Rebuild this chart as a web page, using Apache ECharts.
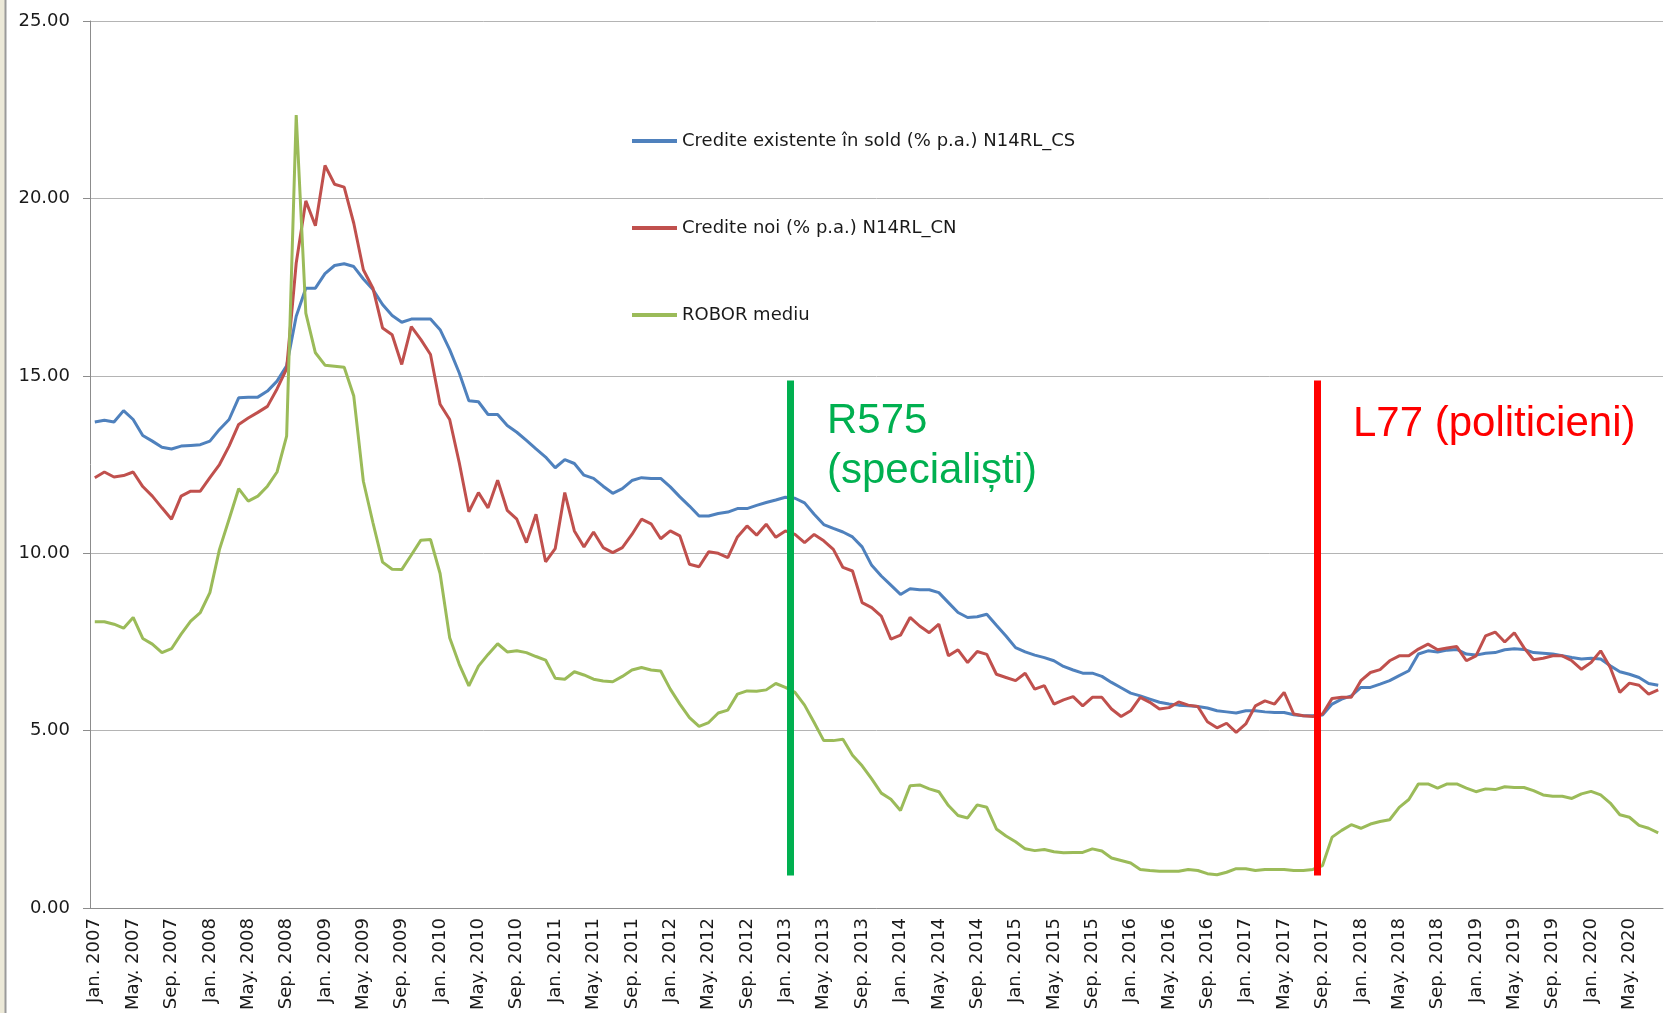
<!DOCTYPE html>
<html>
<head>
<meta charset="utf-8">
<title>Credite vs ROBOR</title>
<script src="https://cdn.jsdelivr.net/npm/echarts@6/dist/echarts.min.js"></script>
<style>
  html, body { margin: 0; padding: 0; background: #fff; }
  #chart { width: 1674px; height: 1013px; }
</style>
</head>
<body>
<div id="chart"></div>
<script>
// luni: ian. 2007 - aug. 2020
const monthNames = ['Jan.', 'Feb.', 'Mar.', 'Apr.', 'May.', 'Jun.', 'Jul.', 'Aug.', 'Sep.', 'Oct.', 'Nov.', 'Dec.'];
const firstYear = 2007;
const monthCount = 164;
const months = [];
for (let i = 0; i < monthCount; i++) {
    months.push(monthNames[i % 12] + ' ' + (firstYear + Math.floor(i / 12)));
}

const seriesNames = [
    'Credite existente în sold (% p.a.) N14RL_CS',
    'Credite noi (% p.a.) N14RL_CN',
    'ROBOR mediu'
];

const crediteSold = [
    13.70, 13.75, 13.70, 14.02, 13.77, 13.32, 13.16, 12.99, 12.94, 13.02, 13.04, 13.06,
    13.16, 13.49, 13.77, 14.38, 14.40, 14.40, 14.57, 14.85, 15.28, 16.68, 17.47, 17.47,
    17.88, 18.11, 18.16, 18.08, 17.73, 17.43, 17.01, 16.70, 16.51, 16.60, 16.60, 16.60,
    16.30, 15.74, 15.08, 14.30, 14.27, 13.91, 13.91, 13.60, 13.41, 13.18, 12.94, 12.71,
    12.41, 12.64, 12.53, 12.20, 12.11, 11.89, 11.69, 11.82, 12.05, 12.13, 12.11, 12.11,
    11.87, 11.59, 11.33, 11.05, 11.05, 11.12, 11.16, 11.26, 11.26, 11.35, 11.43, 11.50,
    11.58, 11.55, 11.42, 11.10, 10.81, 10.70, 10.60, 10.46, 10.18, 9.66, 9.36, 9.10,
    8.84, 9.00, 8.97, 8.97, 8.89, 8.61, 8.33, 8.19, 8.21, 8.28, 7.97, 7.67,
    7.34, 7.22, 7.13, 7.06, 6.97, 6.81, 6.71, 6.62, 6.62, 6.53, 6.36, 6.21,
    6.06, 5.98, 5.89, 5.80, 5.75, 5.72, 5.70, 5.68, 5.64, 5.56, 5.53, 5.50,
    5.56, 5.56, 5.53, 5.51, 5.51, 5.45, 5.42, 5.42, 5.44, 5.75, 5.89, 5.98,
    6.22, 6.22, 6.31, 6.41, 6.55, 6.69, 7.16, 7.25, 7.22, 7.27, 7.29, 7.16,
    7.13, 7.18, 7.20, 7.28, 7.31, 7.29, 7.20, 7.18, 7.16, 7.11, 7.06, 7.02,
    7.04, 7.02, 6.83, 6.66, 6.59, 6.50, 6.33, 6.28
];

const crediteNoi = [
    12.13, 12.29, 12.15, 12.19, 12.29, 11.88, 11.61, 11.28, 10.96, 11.61, 11.75, 11.75,
    12.13, 12.50, 13.02, 13.63, 13.81, 13.97, 14.14, 14.63, 15.20, 18.18, 19.93, 19.23,
    20.93, 20.40, 20.32, 19.30, 17.99, 17.47, 16.35, 16.16, 15.32, 16.39, 16.02, 15.60,
    14.20, 13.77, 12.55, 11.17, 11.71, 11.28, 12.06, 11.21, 10.96, 10.30, 11.10, 9.76,
    10.13, 11.71, 10.63, 10.18, 10.60, 10.16, 10.02, 10.16, 10.53, 10.96, 10.83, 10.41,
    10.63, 10.49, 9.69, 9.62, 10.04, 10.00, 9.88, 10.46, 10.77, 10.51, 10.82, 10.45,
    10.63, 10.53, 10.30, 10.53, 10.35, 10.11, 9.60, 9.50, 8.61, 8.47, 8.23, 7.58,
    7.69, 8.19, 7.95, 7.76, 8.00, 7.11, 7.28, 6.92, 7.23, 7.15, 6.59, 6.50,
    6.41, 6.62, 6.17, 6.27, 5.75, 5.87, 5.96, 5.70, 5.94, 5.94, 5.61, 5.40,
    5.56, 5.94, 5.80, 5.61, 5.65, 5.81, 5.72, 5.68, 5.25, 5.08, 5.21, 4.95,
    5.19, 5.70, 5.84, 5.75, 6.08, 5.47, 5.42, 5.40, 5.47, 5.91, 5.94, 5.94,
    6.41, 6.64, 6.72, 6.97, 7.11, 7.11, 7.30, 7.44, 7.28, 7.33, 7.37, 6.97,
    7.11, 7.67, 7.78, 7.50, 7.76, 7.34, 7.00, 7.04, 7.11, 7.11, 6.97, 6.73,
    6.92, 7.25, 6.78, 6.08, 6.34, 6.28, 6.03, 6.15
];

const roborMediu = [
    8.07, 8.07, 8.00, 7.89, 8.19, 7.60, 7.44, 7.20, 7.31, 7.72, 8.09, 8.33,
    8.89, 10.11, 10.96, 11.82, 11.47, 11.61, 11.89, 12.29, 13.30, 22.35, 16.77, 15.65,
    15.30, 15.27, 15.24, 14.43, 12.03, 10.86, 9.75, 9.55, 9.54, 9.95, 10.37, 10.39,
    9.43, 7.62, 6.87, 6.26, 6.82, 7.15, 7.45, 7.22, 7.25, 7.20, 7.09, 6.99,
    6.48, 6.45, 6.66, 6.57, 6.45, 6.40, 6.38, 6.53, 6.71, 6.78, 6.71, 6.68,
    6.17, 5.75, 5.37, 5.12, 5.23, 5.50, 5.58, 6.03, 6.12, 6.11, 6.15, 6.33,
    6.22, 6.08, 5.72, 5.23, 4.72, 4.72, 4.76, 4.31, 4.01, 3.64, 3.24, 3.07,
    2.75, 3.45, 3.47, 3.36, 3.28, 2.89, 2.61, 2.54, 2.91, 2.84, 2.23, 2.03,
    1.87, 1.67, 1.62, 1.65, 1.59, 1.56, 1.57, 1.57, 1.67, 1.61, 1.41, 1.34,
    1.27, 1.09, 1.06, 1.04, 1.04, 1.04, 1.09, 1.06, 0.97, 0.94, 1.01, 1.11,
    1.11, 1.06, 1.09, 1.09, 1.09, 1.06, 1.06, 1.09, 1.20, 2.00, 2.19, 2.35,
    2.25, 2.37, 2.44, 2.49, 2.84, 3.06, 3.50, 3.50, 3.38, 3.50, 3.50, 3.38,
    3.28, 3.36, 3.34, 3.42, 3.40, 3.40, 3.31, 3.19, 3.15, 3.15, 3.09, 3.22,
    3.29, 3.19, 2.96, 2.63, 2.56, 2.33, 2.25, 2.12
];

// verticale: granita de luna (dupa ian. 2013 / inainte de sep. 2017)
const reformAt = [73, 128];
const reformSpan = [0.92, 14.87];
const reformColors = ['#00B050', '#FF0000'];

const colors = ['#4F81BD', '#C0504D', '#9BBB59'];
const labelFont = 'DejaVu Sans';

const chart = echarts.init(document.getElementById('chart'));

const option = {
    backgroundColor: '#ffffff',
    animation: false,
    color: colors,
    grid: { left: 90, right: 11, top: 21, bottom: 104, containLabel: false },
    legend: {
        orient: 'vertical',
        left: 627,
        top: 126,
        icon: 'rect',
        itemWidth: 45,
        itemHeight: 4,
        itemGap: 67,
        data: seriesNames,
        textStyle: { fontFamily: labelFont, fontSize: 18, color: '#1a1a1a', lineHeight: 20 }
    },
    xAxis: [{
        type: 'category',
        data: months,
        boundaryGap: true,
        axisLine: { lineStyle: { color: '#8c8c8c', width: 1 } },
        axisTick: { interval: 3, length: 6, lineStyle: { color: '#8c8c8c' } },
        axisLabel: {
            interval: 3,
            rotate: 90,
            margin: 10,
            fontFamily: labelFont,
            fontSize: 18,
            color: '#1a1a1a'
        },
        splitLine: { show: false }
    }, {
        type: 'value',
        show: false,
        min: 0,
        max: monthCount
    }],
    yAxis: {
        type: 'value',
        min: 0,
        max: 25,
        interval: 5,
        axisLine: { show: true, lineStyle: { color: '#8c8c8c', width: 1 } },
        axisTick: { show: true, length: 7, lineStyle: { color: '#8c8c8c' } },
        axisLabel: {
            margin: 20,
            fontFamily: labelFont,
            fontSize: 18,
            color: '#1a1a1a',
            formatter: v => v.toFixed(2)
        },
        splitLine: { lineStyle: { color: '#b4b4b4', width: 1 } }
    },
    series: [
        {
            name: seriesNames[0], type: 'line', data: crediteSold,
            symbol: 'none', lineStyle: { width: 3 }
        },
        {
            name: seriesNames[1], type: 'line', data: crediteNoi,
            symbol: 'none', lineStyle: { width: 3 }
        },
        {
            name: seriesNames[2], type: 'line', data: roborMediu,
            symbol: 'none', lineStyle: { width: 3 }
        },
        {
            name: 'reforme',
            type: 'lines',
            coordinateSystem: 'cartesian2d',
            xAxisIndex: 1,
            yAxisIndex: 0,
            z: 5,
            silent: true,
            lineStyle: { width: 7, opacity: 1, curveness: 0 },
            data: reformAt.map((m, k) => ({
                coords: [[m, reformSpan[1]], [m, reformSpan[0]]],
                lineStyle: { color: reformColors[k] }
            }))
        }
    ],
    graphic: [
        { type: 'rect', shape: { x: 0, y: 0, width: 5, height: 1013 }, style: { fill: '#ECE9D8' } },
        { type: 'line', shape: { x1: 5.5, y1: 0, x2: 5.5, y2: 1013 }, style: { stroke: '#9a9a9a', lineWidth: 2 } },
        {
            type: 'text', x: 827, y: 421, z: 10,
            style: { text: 'R575', fill: '#00B050', font: '42px "Liberation Sans"', verticalAlign: 'middle' }
        },
        {
            type: 'text', x: 827, y: 471, z: 10,
            style: { text: '(specialiști)', fill: '#00B050', font: '42px "Liberation Sans"', verticalAlign: 'middle' }
        },
        {
            type: 'text', x: 1353, y: 424, z: 10,
            style: { text: 'L77 (politicieni)', fill: '#FF0000', font: '42px "Liberation Sans"', verticalAlign: 'middle' }
        }
    ]
};

chart.setOption(option);
</script>
</body>
</html>
